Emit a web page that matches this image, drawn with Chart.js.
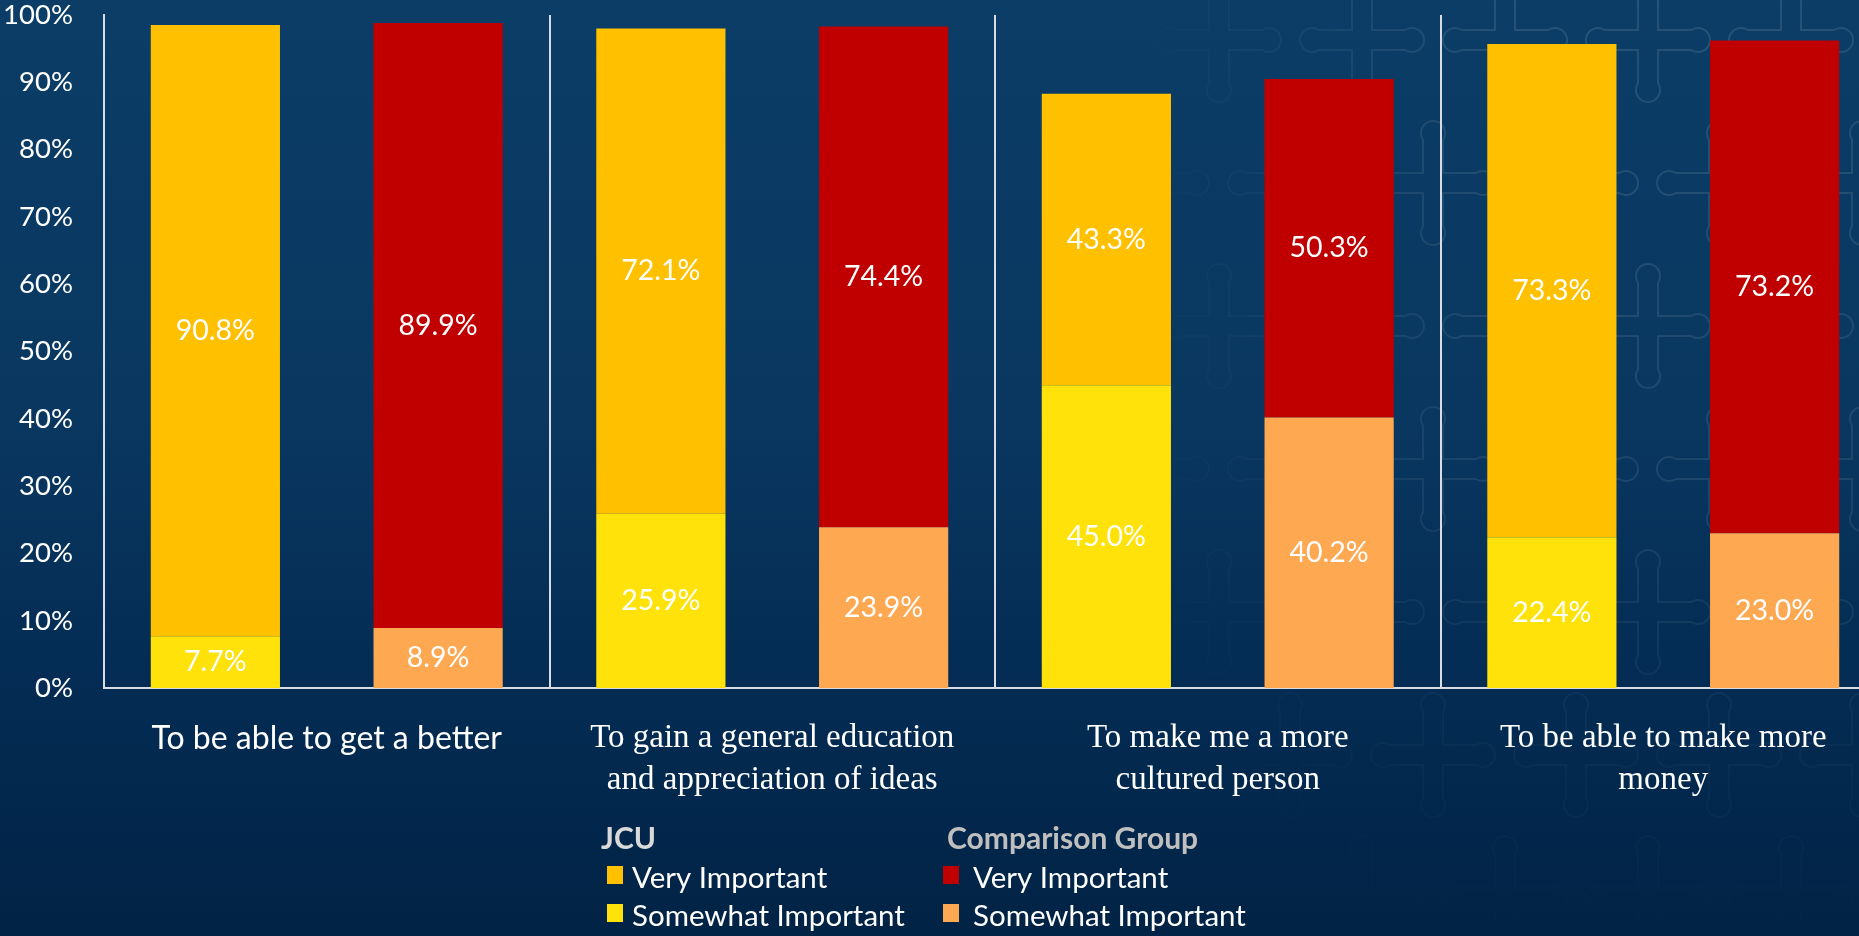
<!DOCTYPE html>
<html>
<head>
<meta charset="utf-8">
<script src="https://cdn.jsdelivr.net/npm/chart.js@4.4.1/dist/chart.umd.min.js"></script>
<style>
  html, body { margin: 0; padding: 0; overflow: hidden; }
  body {
    width: 1859px; height: 936px;
    background: linear-gradient(to bottom, #0b3d66 0%, #093760 45%, #042c54 72%, #012345 100%);
  }
  #wrap { position: absolute; left: 0; top: 0; width: 1900px; height: 936px; }
</style>
</head>
<body>
<div id="wrap"><canvas id="reasonsChart" width="1900" height="936"></canvas></div>
<script>
// categories (x axis)
const categories = [
    "To be able to get a better",
    ["To gain a general education", "and appreciation of ideas"],
    ["To make me a more", "cultured person"],
    ["To be able to make more", "money"]
];

// JCU
const jcuSomewhat = [7.7, 25.9, 45.0, 22.4];
const jcuVery = [90.8, 72.1, 43.3, 73.3];

// Comparison Group
const compSomewhat = [8.9, 23.9, 40.2, 23.0];
const compVery = [89.9, 74.4, 50.3, 73.2];

const yTicks = [0, 10, 20, 30, 40, 50, 60, 70, 80, 90, 100];

const SANS = "Lato, 'Open Sans', sans-serif";
const SERIF = "'Liberation Serif', 'DejaVu Serif', serif";

// faint cross pattern on the right side of the slide background
const backdrop = {
    id: "backdrop",
    beforeDraw(chart) {
        const w = chart.width, h = chart.height;
        const off = document.createElement("canvas");
        off.width = w; off.height = h;
        const o = off.getContext("2d");
        const centres = [];
        for (let row = -1; row < 8; row++) {
            for (let col = 6; col < 15; col++) {
                centres.push([col * 143 - 68 + (row % 2 ? 71 : 0), row * 143 + 40]);
            }
        }
        const knobs = (cx, cy) => [[cx - 50, cy], [cx + 50, cy], [cx, cy - 50], [cx, cy + 50]];
        const shape = (ctx, r) => {
            ctx.beginPath();
            centres.forEach(([cx, cy]) => {
                ctx.moveTo(cx - 46, cy); ctx.lineTo(cx + 46, cy);
                ctx.moveTo(cx, cy - 46); ctx.lineTo(cx, cy + 46);
            });
            ctx.stroke();
            ctx.beginPath();
            centres.forEach(([cx, cy]) => {
                knobs(cx, cy).forEach(([x, y]) => {
                    ctx.moveTo(x + r, y);
                    ctx.arc(x, y, r, 0, Math.PI * 2);
                });
            });
            ctx.fill();
        };
        o.strokeStyle = "#fff";
        o.fillStyle = "#fff";
        o.lineCap = "butt";
        o.lineWidth = 22;
        shape(o, 13);
        o.globalCompositeOperation = "destination-out";
        o.lineWidth = 18;
        shape(o, 11);
        // fade masks
        o.globalCompositeOperation = "destination-in";
        const gx = o.createLinearGradient(1120, 0, 1500, 0);
        gx.addColorStop(0, "rgba(0,0,0,0)");
        gx.addColorStop(1, "rgba(0,0,0,1)");
        o.fillStyle = gx; o.fillRect(0, 0, w, h);
        const gy = o.createLinearGradient(0, 0, 0, h);
        gy.addColorStop(0, "rgba(0,0,0,1)");
        gy.addColorStop(0.55, "rgba(0,0,0,0.75)");
        gy.addColorStop(0.8, "rgba(0,0,0,0.3)");
        gy.addColorStop(1, "rgba(0,0,0,0.05)");
        o.fillStyle = gy; o.fillRect(0, 0, w, h);

        const ctx = chart.ctx;
        ctx.save();
        ctx.globalAlpha = 0.11;
        ctx.drawImage(off, 0, 0, w, h);
        ctx.restore();
    }
};

// label in the middle of every segment
const segmentLabels = {
    id: "segmentLabels",
    afterDatasetsDraw(chart) {
        const ctx = chart.ctx;
        ctx.save();
        ctx.fillStyle = "#ffffff";
        ctx.font = "28.5px " + SANS;
        ctx.textAlign = "center";
        ctx.textBaseline = "middle";
        chart.data.datasets.forEach((ds, i) => {
            const meta = chart.getDatasetMeta(i);
            meta.data.forEach((bar, j) => {
                const yMid = (bar.y + bar.base) / 2;
                ctx.fillText(ds.data[j].toFixed(1) + "%", bar.x, yMid);
            });
        });
        ctx.restore();
    }
};

// two-column legend with group titles
const groupLegend = {
    id: "groupLegend",
    afterDraw(chart) {
        const ctx = chart.ctx;
        const ds = chart.data.datasets;
        const groups = [
            { title: "JCU", titleColor: "#d9d9d9", x: 601, box: 607, text: 632, items: [1, 0] },
            { title: "Comparison Group", titleColor: "#bfbfbf", x: 947, box: 943, text: 973, items: [3, 2] }
        ];
        ctx.save();
        ctx.textBaseline = "middle";
        ctx.textAlign = "left";
        groups.forEach(g => {
            ctx.font = "bold 30px " + SANS;
            ctx.fillStyle = g.titleColor;
            ctx.fillText(g.title, g.x, 839);
            g.items.forEach((idx, k) => {
                const y = 877 + k * 38;
                ctx.fillStyle = ds[idx].backgroundColor;
                ctx.fillRect(g.box, y - 11, 16, 18);
                ctx.fillStyle = "#ffffff";
                ctx.font = "29.5px " + SANS;
                ctx.fillText(ds[idx].label, g.text, y + 1);
            });
        });
        ctx.restore();
    }
};

const ctxReasons = document.getElementById("reasonsChart").getContext("2d");
new Chart(ctxReasons, {
    type: "bar",
    data: {
        labels: categories,
        datasets: [
            { label: "Somewhat Important", data: jcuSomewhat, backgroundColor: "#ffe20a", stack: "jcu" },
            { label: "Very Important", data: jcuVery, backgroundColor: "#ffc000", stack: "jcu" },
            { label: "Somewhat Important", data: compSomewhat, backgroundColor: "#ffa852", stack: "comp" },
            { label: "Very Important", data: compVery, backgroundColor: "#c00000", stack: "comp" }
        ]
    },
    options: {
        responsive: false,
        animation: false,
        layout: { padding: { top: 15, right: 14, left: 0, bottom: 0 } },
        datasets: { bar: { barPercentage: 0.58, categoryPercentage: 1.0 } },
        plugins: {
            legend: { display: false },
            tooltip: { enabled: false }
        },
        scales: {
            x: {
                stacked: true,
                grid: { display: true, offset: true, drawTicks: false, color: "#d9dde3", lineWidth: 2 },
                border: { display: true, color: "#d9dde3", width: 2 },
                ticks: {
                    color: "#ffffff",
                    maxRotation: 0,
                    autoSkip: false,
                    padding: 30,
                    font: (c) => c.index === 0
                        ? { family: SANS, size: 32, lineHeight: 1.3 }
                        : { family: SERIF, size: 33, lineHeight: 1.26 }
                },
                afterFit: (scale) => { scale.height = 248; }
            },
            y: {
                stacked: true,
                min: 0,
                max: 100,
                afterBuildTicks: (scale) => { scale.ticks = yTicks.map(v => ({ value: v })); },
                grid: { display: false, drawTicks: false },
                border: { display: true, color: "#d9dde3", width: 2 },
                ticks: {
                    color: "#ffffff",
                    padding: 31,
                    font: { family: SANS, size: 27.5 },
                    callback: (v) => v + "%"
                },
                afterFit: (scale) => {
                    scale.width = 104;
                    scale.paddingTop = 0;
                    scale.paddingBottom = 0;
                }
            }
        }
    },
    plugins: [backdrop, segmentLabels, groupLegend]
});
</script>
</body>
</html>
